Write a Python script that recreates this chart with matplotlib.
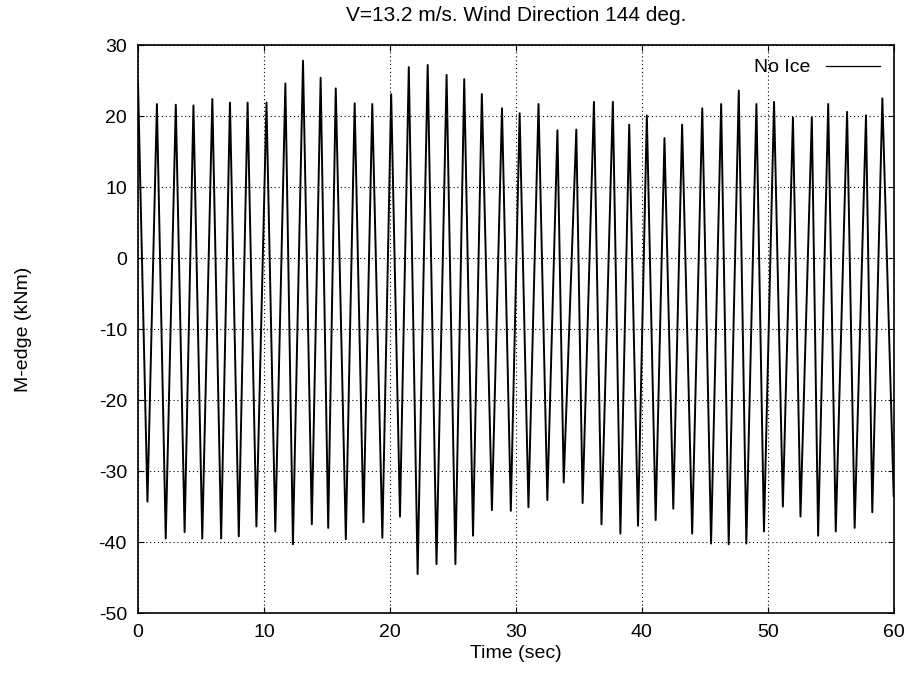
import matplotlib
matplotlib.use("Agg")
import matplotlib.pyplot as plt

# blade edgewise moment: one peak and one trough per rotor turn
peak_t = [0.0, 1.5, 3.0, 4.4, 5.9, 7.3, 8.7, 10.2, 11.7, 13.1,
          14.5, 15.7, 17.2, 18.6, 20.1, 21.5, 23.0, 24.5, 25.9, 27.3,
          28.9, 30.3, 31.8, 33.3, 34.8, 36.2, 37.7, 39.0, 40.4, 41.8,
          43.2, 44.8, 46.3, 47.7, 49.1, 50.5, 52.0, 53.5, 54.8, 56.3,
          57.8, 59.1]
peak_v = [24.6, 21.7, 21.6, 21.5, 22.4, 21.9, 21.9, 21.9, 24.6, 27.8,
          25.4, 23.9, 21.8, 21.7, 23.1, 26.9, 27.2, 25.8, 25.2, 23.1,
          21.1, 20.4, 21.7, 18.0, 18.1, 22.0, 22.0, 18.8, 20.1, 16.9,
          18.8, 21.1, 21.7, 23.6, 21.7, 22.0, 19.8, 19.8, 21.7, 20.6,
          20.1, 22.5]
trough_t = [0.75, 2.2, 3.7, 5.1, 6.6, 8.0, 9.4, 10.9, 12.3, 13.8,
            15.1, 16.5, 17.9, 19.4, 20.8, 22.2, 23.7, 25.2, 26.6, 28.1,
            29.6, 31.0, 32.5, 33.8, 35.3, 36.8, 38.3, 39.7, 41.1, 42.5,
            44.0, 45.5, 46.9, 48.3, 49.7, 51.2, 52.6, 54.0, 55.4, 56.9,
            58.3, 60.0]
trough_v = [-34.3, -39.5, -38.6, -39.5, -39.5, -39.2, -37.8, -38.5, -40.3, -37.5,
            -38.0, -39.6, -37.2, -39.4, -36.4, -44.5, -43.1, -43.1, -39.1, -35.5,
            -35.6, -35.1, -34.1, -31.6, -34.5, -37.5, -38.8, -37.7, -36.9, -35.3,
            -38.8, -40.2, -40.3, -40.2, -38.5, -35.0, -36.4, -39.1, -38.5, -38.0,
            -35.8, -33.5]

x_ticks = [0, 10, 20, 30, 40, 50, 60]
y_ticks = [30, 20, 10, 0, -10, -20, -30, -40, -50]

# interleave peaks and troughs into one time series
t = []
m = []
for i in range(len(peak_t)):
    t += [peak_t[i], trough_t[i]]
    m += [peak_v[i], trough_v[i]]

plt.rcParams['font.family'] = ['Liberation Sans', 'DejaVu Sans']
plt.rcParams['axes.unicode_minus'] = False

fig = plt.figure(figsize=(9.11, 6.73), dpi=100)
ax = fig.add_axes([0.1515, 0.089, 0.8295, 0.844])

ax.plot(t, m, color="black", linewidth=1.4, label="No Ice")

ax.set_xlim(0, 60)
ax.set_ylim(-50, 30)
ax.set_xticks(x_ticks)
ax.set_yticks(y_ticks)
ax.tick_params(direction="in", top=True, right=True, length=4, labelsize=14, pad=8)

ax.grid(True, color="black", linestyle=(0, (1, 2.5)), linewidth=0.8)

for s in ax.spines.values():
    s.set_linewidth(1.2)

ax.set_title("V=13.2 m/s. Wind Direction 144 deg.", fontsize=15, pad=17)
ax.set_xlabel("Time (sec)", fontsize=14, labelpad=3)
ax.set_ylabel("M-edge (kNm)", fontsize=14, labelpad=48)

leg = ax.legend(loc="upper right", frameon=False, markerfirst=False,
                fontsize=14, handlelength=2.8, borderaxespad=0.3)
for h in leg.get_lines():
    h.set_linewidth(0.9)

fig.savefig("out.png", dpi=100)
